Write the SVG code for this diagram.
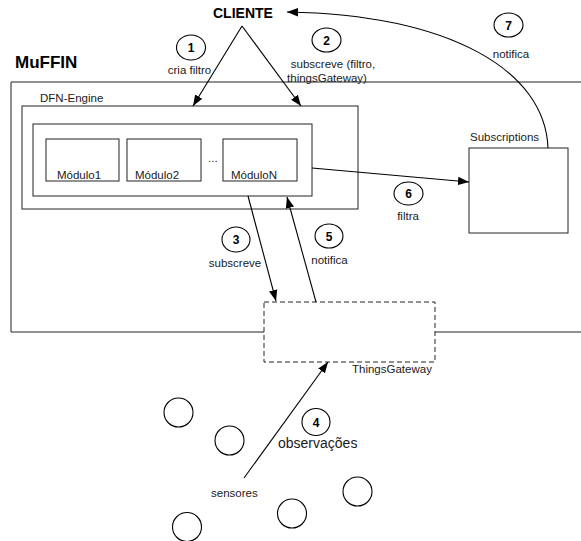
<svg xmlns="http://www.w3.org/2000/svg" width="581" height="541" viewBox="0 0 581 541">
<defs>
<marker id="ah" markerUnits="userSpaceOnUse" markerWidth="12" markerHeight="10" viewBox="0 0 12 10" refX="11" refY="5" orient="auto">
<path d="M0,0.8 L11,5 L0,9.2 Z" fill="#000"/>
</marker>
<style>
.t{font-family:"Liberation Sans",Arial,sans-serif;font-size:11.5px;fill:#1a1a1a}
.big{font-size:14px}
.b{font-family:"Liberation Sans",Arial,sans-serif;font-weight:bold;fill:#000}
.n{font-family:"Liberation Sans",Arial,sans-serif;font-weight:bold;font-size:12px;fill:#000;text-anchor:middle}
.c{text-anchor:middle}
.box{fill:#fff;stroke:#222;stroke-width:1}
.num{fill:#fff;stroke:#000;stroke-width:1.1}
.ln{fill:none;stroke:#000;stroke-width:1.1}
.sensor{fill:#fff;stroke:#000;stroke-width:1.1}
</style>
</defs>

<g id="muffin">
<path d="M590,82 H11 V332 H590" fill="none" stroke="#222" stroke-width="1"/>
<text class="b" x="15" y="68" font-size="17">MuFFIN</text>
</g>

<g id="cliente">
<text class="b" x="213" y="18" font-size="14">CLIENTE</text>
</g>

<g id="dfn-engine">
<rect class="box" x="22" y="106" width="336" height="103"/>
<text class="t" x="40" y="102">DFN-Engine</text>
<rect class="box" x="33" y="124" width="279" height="72"/>
<text class="t" x="208" y="162">...</text>
</g>

<g id="modulo1">
<rect class="box" x="46" y="139" width="73" height="42"/>
<text class="t" x="57" y="179">Módulo1</text>
</g>
<g id="modulo2">
<rect class="box" x="127" y="139" width="74" height="42"/>
<text class="t" x="135" y="179">Módulo2</text>
</g>
<g id="moduloN">
<rect class="box" x="223" y="139" width="74" height="42"/>
<text class="t" x="231" y="179">MóduloN</text>
</g>

<g id="subscriptions">
<rect class="box" x="469" y="148" width="99" height="85"/>
<text class="t" x="470" y="141">Subscriptions</text>
</g>

<g id="thingsgateway">
<rect x="264" y="302" width="171" height="60" fill="#fff" stroke="#222" stroke-width="1" stroke-dasharray="5,3"/>
<text class="t" x="352" y="373">ThingsGateway</text>
</g>

<g id="sensores">
<circle class="sensor" cx="178.5" cy="412.5" r="14.5"/>
<circle class="sensor" cx="229.5" cy="440.5" r="14.5"/>
<circle class="sensor" cx="292" cy="513.5" r="14.5"/>
<circle class="sensor" cx="357.5" cy="491.5" r="14.5"/>
<circle class="sensor" cx="187" cy="527" r="14.5"/>
<text class="t" x="211" y="497">sensores</text>
</g>

<g id="connectors">
<line class="ln" x1="242" y1="26" x2="193" y2="106" marker-end="url(#ah)"/>
<line class="ln" x1="242" y1="26" x2="301" y2="106" marker-end="url(#ah)"/>
<line class="ln" x1="248" y1="196" x2="276" y2="301" marker-end="url(#ah)"/>
<line class="ln" x1="316" y1="302" x2="287" y2="197" marker-end="url(#ah)"/>
<line class="ln" x1="312" y1="168" x2="469" y2="182" marker-end="url(#ah)"/>
<line class="ln" x1="244" y1="478" x2="328" y2="362" marker-end="url(#ah)"/>
<path class="ln" d="M548,148 C545,70 450,15 287,12" marker-end="url(#ah)"/>
</g>

<g id="step1">
<ellipse class="num" cx="191" cy="47.5" rx="14.5" ry="12.5"/>
<text class="n" x="191" y="52">1</text>
<text class="t c" x="189.5" y="74">cria filtro</text>
</g>
<g id="step2">
<ellipse class="num" cx="326.5" cy="40" rx="14.5" ry="12"/>
<text class="n" x="326.5" y="44.5">2</text>
<text class="t c" x="333" y="68">subscreve (filtro,</text>
<text class="t c" x="327" y="82">thingsGateway)</text>
</g>
<g id="step3">
<ellipse class="num" cx="236" cy="239.5" rx="14" ry="12.5"/>
<text class="n" x="236" y="244">3</text>
<text class="t c" x="235" y="267">subscreve</text>
</g>
<g id="step4">
<ellipse class="num" cx="316" cy="422" rx="14" ry="13.5"/>
<text class="n" x="316" y="426.5">4</text>
<text class="t big" x="278" y="448">observações</text>
</g>
<g id="step5">
<ellipse class="num" cx="329" cy="236" rx="14" ry="12"/>
<text class="n" x="329" y="240.5">5</text>
<text class="t c" x="329.5" y="264">notifica</text>
</g>
<g id="step6">
<ellipse class="num" cx="408.5" cy="193.5" rx="14.5" ry="11.5"/>
<text class="n" x="408.5" y="198">6</text>
<text class="t c" x="408" y="220">filtra</text>
</g>
<g id="step7">
<ellipse class="num" cx="508.5" cy="25" rx="14.5" ry="12"/>
<text class="n" x="508.5" y="29.5">7</text>
<text class="t c" x="511" y="58">notifica</text>
</g>
</svg>
